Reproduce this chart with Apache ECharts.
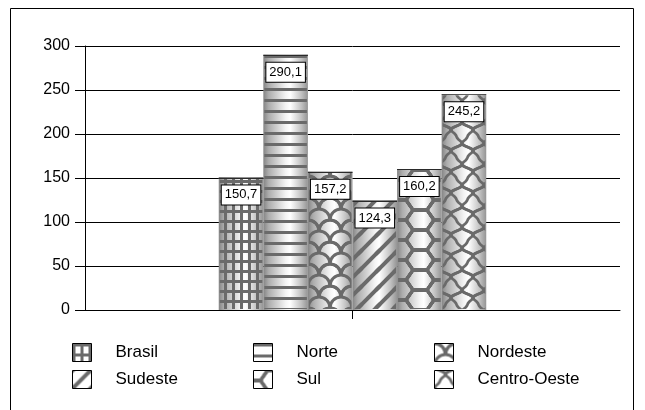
<!DOCTYPE html>
<html>
<head>
<meta charset="utf-8">
<script src="https://cdn.jsdelivr.net/npm/echarts@6/dist/echarts.min.js"></script>
<style>
html,body{margin:0;padding:0;background:#fff;}
#chart{width:645px;height:410px;}
</style>
</head>
<body>
<div id="chart"></div>
<script>
// ---- data ----
const categories = [''];
const seriesNames = ['Brasil', 'Norte', 'Nordeste', 'Sudeste', 'Sul', 'Centro-Oeste'];
const values = [150.7, 290.1, 157.2, 124.3, 160.2, 245.2];
const yMin = 0, yMax = 300, yStep = 50;
const legendColumns = [['Brasil', 'Sudeste'], ['Norte', 'Sul'], ['Nordeste', 'Centro-Oeste']];

// ---- pattern tiles ----
const LINE = '#6a6a6a';
function tile(w, h, motif, lw) {
  const c = document.createElement('canvas');
  c.width = w; c.height = h;
  const ctx = c.getContext('2d');
  ctx.strokeStyle = LINE; ctx.fillStyle = LINE; ctx.lineWidth = lw || 3;
  for (const dx of [-w, 0, w]) for (const dy of [-h, 0, h]) {
    ctx.save(); ctx.translate(dx, dy); motif(ctx, w, h); ctx.restore();
  }
  return c;
}
function ogee(c, w, h, cx, dir) {
  c.beginPath();
  for (let y = -3; y <= h + 3; y += 0.5) {
    const t = 2 * Math.PI * y / h;
    const x = cx + dir * (4.6 * Math.sin(t) + 1.6 * Math.sin(2 * t));
    if (y === -3) c.moveTo(x, y); else c.lineTo(x, y);
  }
  c.stroke();
}
const patterns = {
  'Brasil': tile(8, 10, (c, w, h) => { c.fillRect(0, 0, 3, h); c.fillRect(0, 0, w, 3); }),
  'Norte': tile(4, 11, (c, w, h) => { c.fillRect(0, 0, w, 3); }),
  'Nordeste': tile(22, 22, (c, w, h) => {
    [[11, 22], [0, 11], [22, 11]].forEach(([x, y]) => {
      c.beginPath(); c.arc(x, y, 11, Math.PI, 2 * Math.PI); c.stroke();
    });
  }),
  'Sudeste': tile(18, 18, (c, w, h) => {
    c.beginPath(); c.moveTo(-2, h + 2); c.lineTo(w + 2, -2); c.stroke();
  }, 4),
  'Sul': tile(42, 20, (c, w, h) => {
    [[0, 0], [0, 20], [42, 0], [42, 20], [21, 10], [21, -10], [21, 30]].forEach(([x, y]) => {
      c.beginPath();
      c.moveTo(x - 14, y); c.lineTo(x - 7, y - 10); c.lineTo(x + 7, y - 10);
      c.lineTo(x + 14, y); c.lineTo(x + 7, y + 10); c.lineTo(x - 7, y + 10);
      c.closePath(); c.stroke();
    });
  }),
  'Centro-Oeste': tile(22, 21, (c, w, h) => {
    ogee(c, w, h, 5.5, 1);
    ogee(c, w, h, 16.5, -1);
  }, 2.8)
};

const cylinder = {
  type: 'linear', x: 0, y: 0, x2: 1, y2: 0,
  colorStops: [
    { offset: 0, color: '#858585' },
    { offset: 0.12, color: '#adadad' },
    { offset: 0.5, color: '#f4f4f4' },
    { offset: 0.6, color: '#ffffff' },
    { offset: 0.85, color: '#c2c2c2' },
    { offset: 1, color: '#949494' }
  ]
};
// dark cap along the top edge of each bar (style only)
function capStroke(v) {
  const f = Math.min(0.5, 1.2 / (v / (yMax - yMin) * 264));
  return {
    type: 'linear', x: 0, y: 0, x2: 0, y2: 1,
    colorStops: [
      { offset: 0, color: '#2a2a2a' }, { offset: f, color: '#2a2a2a' },
      { offset: f + 0.0001, color: 'rgba(0,0,0,0)' }, { offset: 1, color: 'rgba(0,0,0,0)' }
    ]
  };
}

const FONT = 'Liberation Sans, Arial, sans-serif';
const series = [];
seriesNames.forEach((name, i) => {
  series.push({
    name: name + ' ', type: 'bar', xAxisIndex: 1, silent: true, z: 1,
    barGap: '0%', barCategoryGap: '50%',
    itemStyle: { color: cylinder },
    data: [values[i]]
  });
});
seriesNames.forEach((name, i) => {
  series.push({
    name: name, type: 'bar', xAxisIndex: 0, z: 2,
    barGap: '0%', barCategoryGap: '50%',
    itemStyle: {
      color: { image: patterns[name], repeat: 'repeat' },
      borderColor: capStroke(values[i]), borderWidth: 2
    },
    label: {
      show: true, position: 'insideTop', distance: 8,
      formatter: p => String(p.value).replace('.', ','),
      color: '#000', fontSize: 13, fontFamily: FONT,
      backgroundColor: '#fff', borderColor: '#000', borderWidth: 1,
      padding: [3, 3, 3, 3]
    },
    data: [values[i]]
  });
});

const legends = legendColumns.map((names, k) => ({
  data: names, orient: 'vertical', left: [72, 253, 434][k], top: 343,
  itemWidth: 19, itemHeight: 18, itemGap: 8, padding: 0,
  icon: 'rect', selectedMode: false,
  itemStyle: { borderColor: '#000', borderWidth: 1 },
  textStyle: { fontSize: 17, fontFamily: FONT, color: '#000', padding: [0, 0, 0, 19] }
}));

const chart = echarts.init(document.getElementById('chart'), null, { renderer: 'canvas' });
chart.setOption({
  animation: false,
  backgroundColor: '#fff',
  grid: { left: 85, right: 25, top: 46, bottom: 100, containLabel: false },
  legend: legends,
  xAxis: [
    {
      type: 'category', data: categories,
      axisLine: { show: true, lineStyle: { color: '#000', width: 1 } },
      axisTick: { show: true, alignWithLabel: true, length: 9, lineStyle: { color: '#000' } },
      axisLabel: { show: false }, splitLine: { show: false }
    },
    { type: 'category', data: categories, show: false }
  ],
  yAxis: {
    type: 'value', min: yMin, max: yMax, interval: yStep,
    axisLine: { show: true, lineStyle: { color: '#000', width: 1 } },
    axisTick: { show: true, length: 10, lineStyle: { color: '#000' } },
    axisLabel: { color: '#000', fontSize: 16, fontFamily: FONT, margin: 15 },
    splitLine: { show: true, lineStyle: { color: '#000', width: 1 } }
  },
  graphic: [{
    type: 'rect', silent: true, z: 100,
    shape: { x: 10.5, y: 8.5, width: 623, height: 500 },
    style: { fill: null, stroke: '#000', lineWidth: 1 }
  }],
  series: series
});
</script>
</body>
</html>
